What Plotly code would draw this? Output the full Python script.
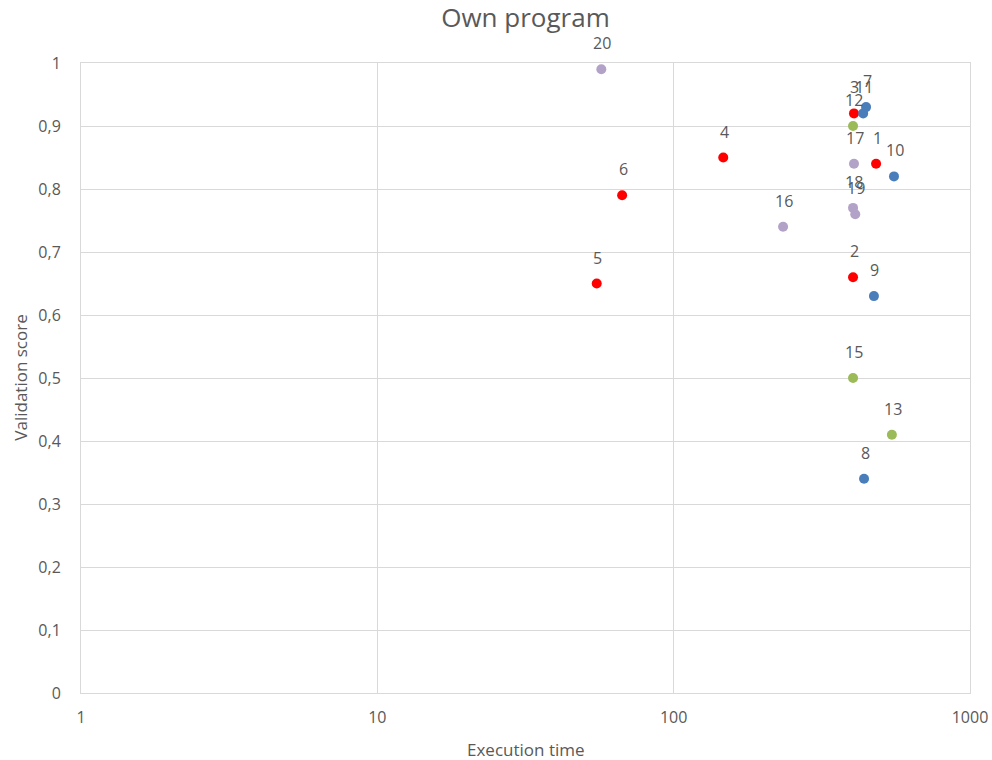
import numpy as np
import plotly.graph_objects as go

# Series data (execution time, validation score, point label)
red_x = [482, 403, 406, 147, 55, 67]
red_y = [0.84, 0.66, 0.92, 0.85, 0.65, 0.79]
red_lbl = ["1", "2", "3", "4", "5", "6"]

blue_x = [446, 439, 474, 554, 436]
blue_y = [0.93, 0.34, 0.63, 0.82, 0.92]
blue_lbl = ["7", "8", "9", "10", "11"]

green_x = [403, 545, 403]
green_y = [0.90, 0.41, 0.50]
green_lbl = ["12", "13", "15"]

purple_x = [234, 406, 403, 410, 57]
purple_y = [0.74, 0.84, 0.77, 0.76, 0.99]
purple_lbl = ["16", "17", "18", "19", "20"]

y_tickvals = [0, 0.1, 0.2, 0.3, 0.4, 0.5, 0.6, 0.7, 0.8, 0.9, 1]
y_ticktext = ["0", "0,1", "0,2", "0,3", "0,4", "0,5", "0,6", "0,7", "0,8", "0,9", "1"]
x_tickvals = [1, 10, 100, 1000]
x_ticktext = ["1", "10", "100", "1000"]

series = [
    (red_x, red_y, red_lbl, "#FF0000"),
    (blue_x, blue_y, blue_lbl, "#4A7EBB"),
    (green_x, green_y, green_lbl, "#9BBB59"),
    (purple_x, purple_y, purple_lbl, "#B3A2C7"),
]

FONT = "Open Sans, Liberation Sans, sans-serif"
GRAY = "#595959"
GRID = "#D9D9D9"

fig = go.Figure()
annotations = []
for xs, ys, lbls, col in series:
    fig.add_trace(go.Scatter(
        x=xs, y=ys, mode="markers",
        marker=dict(color=col, size=10, line=dict(width=0)),
        showlegend=False, hoverinfo="x+y",
    ))
    for xv, yv, t in zip(xs, ys, lbls):
        annotations.append(dict(
            x=float(np.log10(xv)), y=yv, xref="x", yref="y", text=t,
            showarrow=False, yshift=26, xshift=1,
            font=dict(family=FONT, size=16, color=GRAY),
        ))

annotations.append(dict(
    text="Validation score", xref="paper", yref="paper", x=-0.069, y=0.5,
    xanchor="center", yanchor="middle", textangle=-90, showarrow=False,
    font=dict(family=FONT, size=17, color=GRAY),
))
annotations.append(dict(
    text="Execution time", xref="paper", yref="paper", x=0.5, y=-0.089,
    xanchor="center", yanchor="middle", showarrow=False,
    font=dict(family=FONT, size=17, color=GRAY),
))

fig.update_layout(
    width=992, height=760,
    paper_bgcolor="white", plot_bgcolor="white",
    margin=dict(l=81, r=22, t=63, b=67, autoexpand=False),
    title=dict(text="Own program", x=0.5, xanchor="center", xref="paper",
               y=0.976, yanchor="middle",
               font=dict(family=FONT, size=26, color=GRAY)),
    annotations=annotations,
    xaxis=dict(
        type="log", range=[0, 3], automargin=False,
        tickvals=x_tickvals, ticktext=x_ticktext,
        showgrid=True, gridcolor=GRID, gridwidth=1,
        showline=True, linecolor=GRID, mirror=True,
        zeroline=False, ticks="", ticklabelstandoff=10,
        tickfont=dict(family=FONT, size=16, color=GRAY),
    ),
    yaxis=dict(
        range=[0, 1], automargin=False,
        tickvals=y_tickvals, ticktext=y_ticktext,
        showgrid=True, gridcolor=GRID, gridwidth=1,
        showline=True, linecolor=GRID, mirror=True,
        zeroline=False, ticks="", ticklabelstandoff=16,
        tickfont=dict(family=FONT, size=16, color=GRAY),
    ),
)

fig.write_html(
    "out.html",
    config={"displayModeBar": False},
    post_script="document.body.style.margin='0px';document.body.style.overflow='hidden';",
)
